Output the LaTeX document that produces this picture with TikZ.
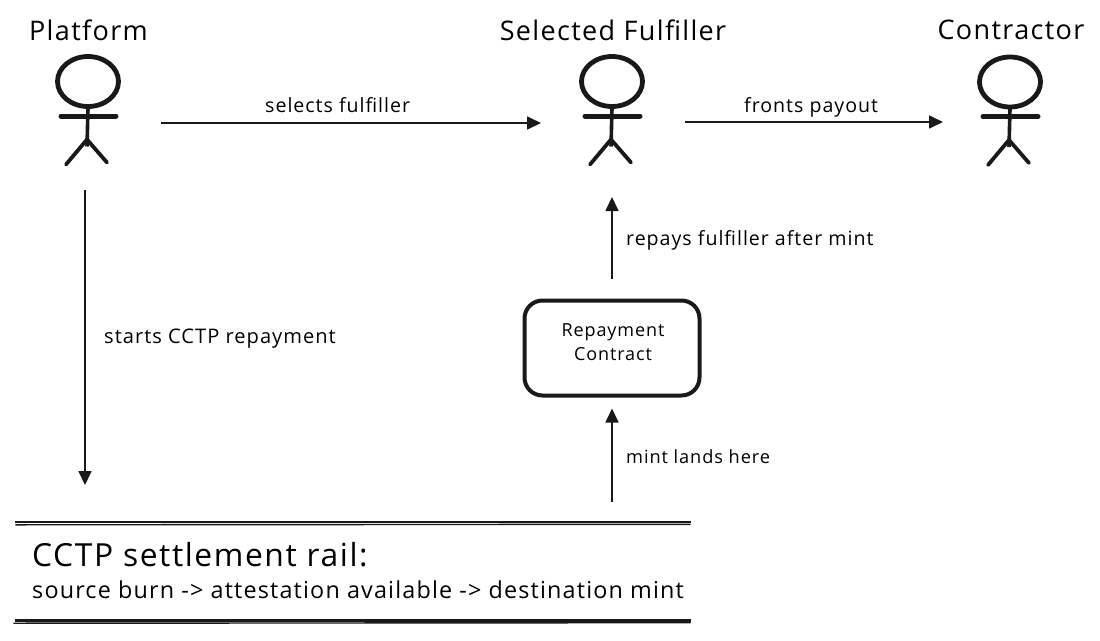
\documentclass[tikz,border=0pt]{standalone}
\usepackage{fontspec}
\setmainfont[LetterSpace=5]{Open Sans}
\usetikzlibrary{arrows.meta}
\tikzset{
  ink/.style={draw=black!90},
  flow/.style={ink,line width=1.7pt,-{Triangle[length=14pt,width=13pt]}},
  actorbox/.style={rectangle,inner sep=0pt,outer sep=0pt},
  head/.style={font=\fontsize{27}{30}\selectfont,inner sep=0pt},
  lab/.style={font=\fontsize{19.6}{22}\selectfont,inner sep=0pt,anchor=west},
  boxlab/.style={font=\fontsize{18}{24}\selectfont,inner sep=0pt,align=center},
  railmain/.style={ink,line width=2.6pt},
  railthin/.style={ink,line width=1.4pt},
  pics/actor/.style={code={
    \draw[ink,line width=4.8pt] (0,-40) ellipse[x radius=30.5pt,y radius=25pt];
    \draw[ink,line width=3.6pt] (0,-13) -- (-1,25);
    \draw[ink,line width=5pt,line cap=round] (-27,-5.5) -- (28,-5.5);
    \draw[ink,line width=3.8pt,line cap=round] (-22,43) -- (-1,18) -- (19,41);
  }}
}
\begin{document}
\begin{tikzpicture}[x=1pt,y=-1pt]
\useasboundingbox (0,0) rectangle (1100,640);
% actors
\node[actorbox,minimum width=146pt,minimum height=134pt] (platform) at (88,123) {};
\node[actorbox,minimum width=144pt,minimum height=150pt] (fulfiller) at (613,122) {};
\node[actorbox,minimum width=134pt,minimum height=150pt] (contractor) at (1010,122) {};
\pic at (88,121.5) {actor};
\pic at (612,121.5) {actor};
\pic at (1010,122) {actor};
\node[head] (tplatform) at (88.5,30) {Platform};
\node[head] (tfulfiller) at (613,30) {Selected Fulfiller};
\node[head] (tcontractor) at (1011,30) {Contractor};
% repayment contract
\node[ink,line width=4pt,rounded corners=18pt,minimum width=175pt,minimum height=95pt,inner sep=0pt] (repay) at (612,348) {};
\node[boxlab] (trepay) at (613,342) {Repayment\\Contract};
% rail
\node[rectangle,inner sep=0pt,minimum width=675pt,minimum height=98pt] (rail) at (353,571) {};
\draw[railmain] (rail.north west) -- (rail.north east);
\draw[railthin] ([yshift=-3pt]rail.north west) -- ([yshift=-2.5pt]rail.north east);
\draw[railmain] (rail.south west) -- (rail.south east);
\draw[railthin] ([yshift=-3pt,xshift=-2pt]rail.south west) -- ([yshift=-2.5pt]rail.south east);
\node[font=\fontsize{31.8}{36}\selectfont,inner sep=0pt,anchor=west] (trail) at (32,555) {CCTP settlement rail:};
\node[font=\fontsize{23.35}{26}\selectfont,inner sep=0pt,anchor=west] (tburn) at (32,590) {source burn -> attestation available -> destination mint};
% free ends
\coordinate (platformend) at (85,485);
\coordinate (mintstart) at (612,502);
% connectors
\draw[flow] (platform.east) -- (platform.east -| fulfiller.west);
\draw[flow] (fulfiller.east) -- (contractor.west);
\draw[flow] (platformend |- platform.south) -- (platformend);
\draw[flow,shorten <=20pt] (repay.north) -- (repay.north |- fulfiller.south);
\draw[flow,shorten >=11pt] (mintstart) -- (repay.south);
% labels
\node[lab] (l1) at (265,105) {selects fulfiller};
\node[lab] (l2) at (744,107) {fronts payout};
\node[lab] (l3) at (626,240) {repays fulfiller after mint};
\node[lab,font=\fontsize{20.1}{22}\selectfont] (l4) at (104,339) {starts CCTP repayment};
\node[lab,font=\fontsize{18.2}{22}\selectfont] (l5) at (626,457) {mint lands here};
\end{tikzpicture}
\end{document}
